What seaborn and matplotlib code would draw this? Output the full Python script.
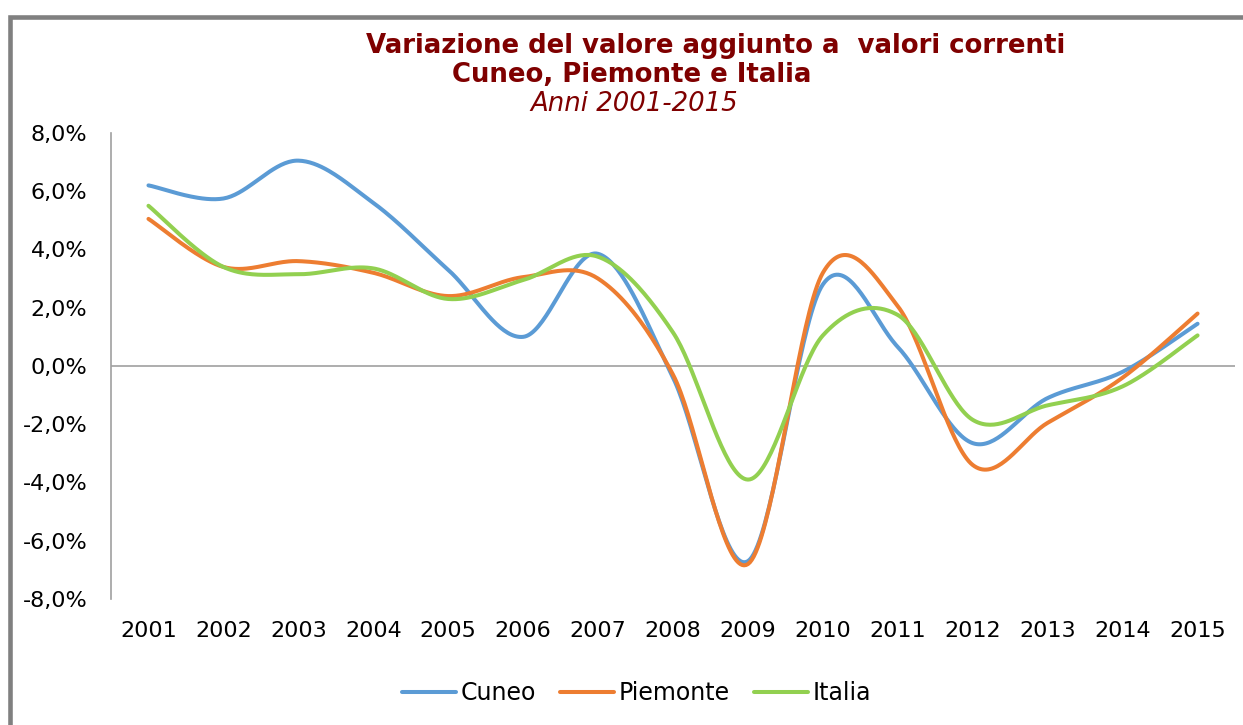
import numpy as np
import pandas as pd
import matplotlib
matplotlib.use("Agg")
import matplotlib.pyplot as plt
from matplotlib.patches import Rectangle
import seaborn as sns

# data (percent)
years = [2001, 2002, 2003, 2004, 2005, 2006, 2007, 2008, 2009, 2010, 2011, 2012, 2013, 2014, 2015]
cuneo = [6.2, 5.75, 7.05, 5.6, 3.3, 1.0, 3.85, -0.4, -6.7, 2.8, 0.65, -2.65, -1.1, -0.2, 1.45]
piemonte = [5.05, 3.4, 3.6, 3.2, 2.4, 3.05, 3.0, -0.3, -6.8, 3.2, 2.05, -3.4, -1.95, -0.4, 1.8]
italia = [5.5, 3.4, 3.15, 3.35, 2.3, 2.95, 3.75, 1.15, -3.9, 1.05, 1.75, -1.85, -1.35, -0.7, 1.05]
series_names = ["Cuneo", "Piemonte", "Italia"]
colors = ["#5B9BD5", "#ED7D31", "#92D050"]
dark_red = "#7F0000"


# excel style smoothed line (bezier with control points at 1/6)
def smooth(xs, ys, n=40):
    xs = np.asarray(xs, float)
    ys = np.asarray(ys, float)
    m = len(xs)
    out_x, out_y = [], []
    for i in range(m - 1):
        a = max(i - 1, 0)
        b = min(i + 2, m - 1)
        p0 = np.array([xs[i], ys[i]])
        p3 = np.array([xs[i + 1], ys[i + 1]])
        p1 = p0 + (p3 - np.array([xs[a], ys[a]])) / 6
        p2 = p3 - (np.array([xs[b], ys[b]]) - p0) / 6
        t = np.linspace(0, 1, n)[(1 if i > 0 else 0):, None]
        pts = ((1 - t) ** 3) * p0 + 3 * ((1 - t) ** 2) * t * p1 + 3 * (1 - t) * t ** 2 * p2 + t ** 3 * p3
        out_x.extend(pts[:, 0])
        out_y.extend(pts[:, 1])
    return out_x, out_y


frames = []
pos = list(range(len(years)))
for name, vals in zip(series_names, [cuneo, piemonte, italia]):
    sx, sy = smooth(pos, vals)
    frames.append(pd.DataFrame({"x": sx, "y": sy, "serie": name}))
df = pd.concat(frames, ignore_index=True)

sns.set_theme(style="white")
plt.rcParams["font.family"] = ["DejaVu Sans"]
plt.rcParams["text.color"] = "black"

fig = plt.figure(figsize=(12.43, 7.25), dpi=100)
ax = fig.add_axes([0.0893, 0.1738, 0.9043, 0.6428])

sns.lineplot(data=df, x="x", y="y", hue="serie", palette=colors, sort=False,
             estimator=None, linewidth=2.9, ax=ax, legend=True)

ax.axhline(0, color="#A0A0A0", lw=1.2, zorder=0)
ax.set_xlim(-0.5, len(years) - 0.5)
ax.set_ylim(-8, 8)
ax.set_xticks(pos)
ax.set_xticklabels([str(y) for y in years])
yt = np.arange(-8, 9, 2)
ax.set_yticks(yt)
ax.set_yticklabels([f"{v:.1f}%".replace(".", ",") for v in yt])
ax.tick_params(axis="y", length=0, pad=17, labelsize=16, labelcolor="black")
ax.tick_params(axis="x", length=0, pad=16, labelsize=16, labelcolor="black")
ax.set_xlabel("")
ax.set_ylabel("")
for s in ["top", "right", "bottom"]:
    ax.spines[s].set_visible(False)
ax.spines["left"].set_color("#A0A0A0")
ax.spines["left"].set_linewidth(1.2)

# legend at the bottom
ax.legend_.remove()
handles, labels = ax.get_legend_handles_labels()
leg = fig.legend(handles, labels, loc="center", bbox_to_anchor=(0.512, 0.044), ncol=3,
                 frameon=False, fontsize=17, handlelength=2.3, handletextpad=0.2,
                 columnspacing=1.0)
for t in leg.get_texts():
    t.set_color("black")

# titles
fig.text(716 / 1243, 1 - 53 / 725, "Variazione del valore aggiunto a  valori correnti",
         ha="center", va="baseline", fontsize=18.7, fontweight="bold", color=dark_red)
fig.text(632 / 1243, 1 - 82 / 725, "Cuneo, Piemonte e Italia",
         ha="center", va="baseline", fontsize=18.7, fontweight="bold", color=dark_red)
fig.text(634 / 1243, 1 - 111 / 725, "Anni 2001-2015",
         ha="center", va="baseline", fontsize=18.7, style="italic", color=dark_red)

# grey frame of the chart box (top and left visible)
fig.patches.append(Rectangle((10 / 1243, -0.2), 1.2, 1 - 16.5 / 725 + 0.2,
                             transform=fig.transFigure, fill=False,
                             edgecolor="#808080", lw=3.3, clip_on=False))

fig.savefig("out.png", dpi=100)
